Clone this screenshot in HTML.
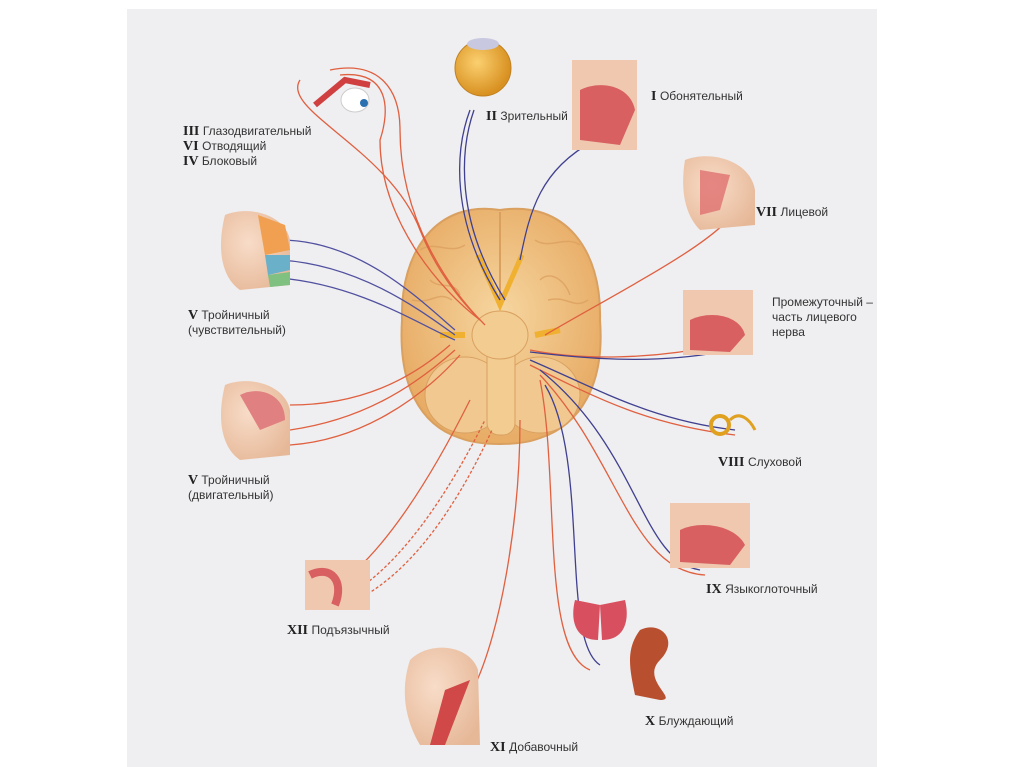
<!DOCTYPE html>
<html><head><meta charset="utf-8"><style>
body{margin:0;background:#fff;width:1024px;height:767px;overflow:hidden;font-family:"Liberation Sans",sans-serif}
svg{position:absolute;left:0;top:0}
.r{font-family:"Liberation Serif",serif;font-weight:bold;font-size:14px;fill:#222}
.t{font-family:"Liberation Sans",sans-serif;font-size:12px;fill:#333}
</style></head><body>
<svg width="1024" height="767" viewBox="0 0 1024 767">
<rect x="127" y="9" width="750" height="758" fill="#efeef0"/>
<defs>
<radialGradient id="b" cx="50%" cy="45%" r="60%"><stop offset="0" stop-color="#f6d6a0"/><stop offset="1" stop-color="#e6a860"/></radialGradient>
<radialGradient id="e" cx="40%" cy="40%" r="60%"><stop offset="0" stop-color="#fbd070"/><stop offset="1" stop-color="#d89020"/></radialGradient>
<radialGradient id="s" cx="40%" cy="40%" r="70%"><stop offset="0" stop-color="#f8dcc8"/><stop offset="1" stop-color="#e6b898"/></radialGradient>
</defs>
<!-- brain -->
<path d="M500 210 C565 200 602 250 600 320 C605 385 580 425 540 438 C520 446 480 446 460 438 C420 425 398 385 402 320 C400 250 438 200 500 210Z" fill="url(#b)" stroke="#d9a060" stroke-width="2"/>
<g fill="none" stroke="#dca060" stroke-width="1.5" opacity=".8">
<path d="M420 250 c15 -10 30 5 45 -5 M535 240 c15 10 30 -5 45 5 M412 300 c20 5 25 -10 40 0 M548 300 c20 -5 25 10 40 0 M430 280 c10 10 25 0 30 15 M540 280 c10 -10 25 0 30 15"/>
</g>
<ellipse cx="465" cy="395" rx="40" ry="38" fill="#f0c890" stroke="#d9a060"/>
<ellipse cx="540" cy="395" rx="40" ry="38" fill="#f0c890" stroke="#d9a060"/>
<rect x="487" y="330" width="28" height="105" rx="12" fill="#f2cc90" stroke="#d9a060"/>
<ellipse cx="500" cy="335" rx="28" ry="24" fill="#f2cc90" stroke="#d9a060"/>
<path d="M500 212 L500 300" stroke="#d9a060" stroke-width="2"/>
<path d="M478 255 L500 305 L522 255" stroke="#f0b030" stroke-width="5" fill="none"/>
<path d="M440 335 l25 0 M535 335 l25 -5" stroke="#f0b030" stroke-width="6"/>
<!-- nerves -->
<g fill="none" stroke-width="1.3">
<path d="M280 240 C360 240 420 300 455 330" stroke="#5050a0"/>
<path d="M280 260 C360 265 420 310 455 335" stroke="#5050a0"/>
<path d="M280 278 C360 285 420 325 455 340" stroke="#5050a0"/>
<path d="M290 405 C360 405 410 380 450 345" stroke="#e06040"/>
<path d="M290 430 C360 420 410 390 455 350" stroke="#e06040"/>
<path d="M290 445 C360 440 420 400 460 355" stroke="#e06040"/>
<path d="M300 80 C280 110 390 150 420 230 C440 280 470 310 480 320" stroke="#e06040"/>
<path d="M330 70 C380 60 400 90 400 130 C400 220 450 290 485 325" stroke="#e06040"/>
<path d="M340 75 C390 70 390 110 380 140 C380 220 440 290 480 320" stroke="#e06040"/>
<path d="M470 110 C455 150 450 220 500 300" stroke="#404090"/>
<path d="M474 110 C460 150 455 220 505 300" stroke="#404090"/>
<path d="M595 140 C540 170 530 210 520 260" stroke="#404090"/>
<path d="M740 205 C720 240 640 280 545 335" stroke="#e06040"/>
<path d="M720 345 C650 360 580 360 530 350" stroke="#e06040"/>
<path d="M720 352 C650 365 580 358 530 352" stroke="#404090"/>
<path d="M735 430 C650 420 600 390 530 360" stroke="#404090"/>
<path d="M735 435 C650 425 600 400 530 365" stroke="#e06040"/>
<path d="M700 570 C640 560 640 450 540 370" stroke="#404090"/>
<path d="M705 575 C630 570 620 460 540 375" stroke="#e06040"/>
<path d="M590 670 C540 650 560 480 540 380" stroke="#e06040"/>
<path d="M600 665 C560 640 590 460 545 385" stroke="#404090"/>
<path d="M470 695 C500 640 520 520 520 420" stroke="#e06040"/>
<path d="M330 590 C380 560 430 480 470 400" stroke="#e06040"/>
<path d="M340 600 C400 570 450 490 485 420" stroke="#e06040" stroke-dasharray="3 2"/>
<path d="M345 605 C410 580 460 500 492 430" stroke="#e06040" stroke-dasharray="3 2"/>
</g>
<!-- eye II -->
<circle cx="483" cy="68" r="28" fill="url(#e)" stroke="#c08020"/>
<ellipse cx="483" cy="44" rx="16" ry="6" fill="#c8c8e0"/>
<!-- eye muscles -->
<ellipse cx="355" cy="100" rx="14" ry="12" fill="#fff" stroke="#ccc"/>
<circle cx="364" cy="103" r="4" fill="#2a6fb0"/>
<path d="M315 105 L345 80 L370 85" stroke="#d04040" stroke-width="6" fill="none"/>
<!-- heads -->
<path d="M225 215 C250 205 285 215 290 240 L290 285 L240 290 C225 280 215 255 225 215Z" fill="url(#s)"/>
<path d="M258 215 L285 225 L290 250 L265 255Z" fill="#f0a050"/><path d="M265 255 L290 255 L290 270 L268 275Z" fill="#6ab0c8"/><path d="M268 275 L290 272 L290 285 L270 287Z" fill="#80c080"/>
<path d="M225 385 C250 375 285 385 290 410 L290 455 L240 460 C225 450 215 425 225 385Z" fill="url(#s)"/>
<path d="M240 395 C260 385 285 395 285 420 L260 430Z" fill="#e08080"/>
<path d="M685 160 C710 150 750 160 755 190 L755 225 L700 230 C685 215 680 190 685 160Z" fill="url(#s)"/>
<path d="M700 170 L730 175 L720 210 L700 215Z" fill="#e07070" opacity=".8"/>
<rect x="572" y="60" width="65" height="90" fill="#f0c8b0"/><path d="M580 90 C600 80 630 85 635 110 L620 145 L580 140Z" fill="#d86060"/>
<rect x="683" y="290" width="70" height="65" fill="#f0c8b0"/><path d="M690 320 C710 310 740 315 745 335 L730 352 L690 350Z" fill="#d86060"/>
<rect x="670" y="503" width="80" height="65" fill="#f0c8b0"/><path d="M680 530 C700 520 735 525 745 545 L730 565 L680 562Z" fill="#d86060"/>
<circle cx="720" cy="425" r="9" fill="none" stroke="#e0a020" stroke-width="4"/><path d="M730 420 c10-10 20 0 25 10" stroke="#e0a020" stroke-width="3" fill="none"/>
<rect x="305" y="560" width="65" height="50" fill="#f0c8b0"/><path d="M310 575 C330 565 345 580 335 605" stroke="#d86060" stroke-width="8" fill="none"/>
<path d="M410 660 C430 640 470 645 478 670 L480 745 L420 745 C405 720 400 690 410 660Z" fill="url(#s)"/><path d="M445 690 L470 680 L445 745 L430 745Z" fill="#d04848"/>
<path d="M575 600 C570 620 575 640 598 640 L600 605Z M625 600 C630 620 625 640 602 640 L600 605Z" fill="#d85060"/>
<path d="M640 630 C660 620 680 640 660 660 C640 680 680 700 660 700 L635 695 C630 670 625 650 640 630Z" fill="#b85030"/>
<!-- labels -->
<text x="183" y="135"><tspan class="r">III </tspan><tspan class="t">Глазодвигательный</tspan></text>
<text x="183" y="150"><tspan class="r">VI </tspan><tspan class="t">Отводящий</tspan></text>
<text x="183" y="165"><tspan class="r">IV </tspan><tspan class="t">Блоковый</tspan></text>
<text x="486" y="120"><tspan class="r">II </tspan><tspan class="t">Зрительный</tspan></text>
<text x="651" y="100"><tspan class="r">I </tspan><tspan class="t">Обонятельный</tspan></text>
<text x="756" y="216"><tspan class="r">VII </tspan><tspan class="t">Лицевой</tspan></text>
<text class="t" x="772" y="306">Промежуточный –</text>
<text class="t" x="772" y="321">часть лицевого</text>
<text class="t" x="772" y="336">нерва</text>
<text x="718" y="466"><tspan class="r">VIII </tspan><tspan class="t">Слуховой</tspan></text>
<text x="706" y="593"><tspan class="r">IX </tspan><tspan class="t">Языкоглоточный</tspan></text>
<text x="645" y="725"><tspan class="r">X </tspan><tspan class="t">Блуждающий</tspan></text>
<text x="490" y="751"><tspan class="r">XI </tspan><tspan class="t">Добавочный</tspan></text>
<text x="287" y="634"><tspan class="r">XII </tspan><tspan class="t">Подъязычный</tspan></text>
<text x="188" y="319"><tspan class="r">V </tspan><tspan class="t">Тройничный</tspan></text>
<text class="t" x="188" y="334">(чувствительный)</text>
<text x="188" y="484"><tspan class="r">V </tspan><tspan class="t">Тройничный</tspan></text>
<text class="t" x="188" y="499">(двигательный)</text>
</svg>
</body></html>
